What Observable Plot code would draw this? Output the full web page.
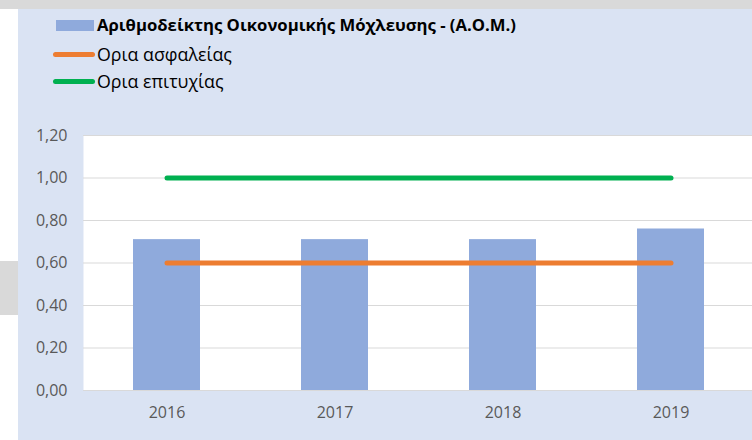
<!DOCTYPE html>
<html><head><meta charset="utf-8">
<script src="https://cdn.jsdelivr.net/npm/d3@7"></script>
<script src="https://cdn.jsdelivr.net/npm/@observablehq/plot@0.6"></script>
<style>
html,body{margin:0;padding:0;width:752px;height:440px;overflow:hidden;background:#fff;font-family:"Open Sans",sans-serif;}
#topband{position:absolute;left:0;top:0;width:752px;height:9px;background:#d9d9d9;}
#leftbox{position:absolute;left:0;top:261px;width:18px;height:54px;background:#d9d9d9;}
#panel{position:absolute;left:18px;top:9px;width:734px;height:431px;background:#dae3f3;}
#chart{position:absolute;left:0;top:0;width:760px;height:440px;}
#chart svg{max-width:none !important;width:760px;height:440px;display:block;}
#chart svg text{font-size:16px !important;font-family:"Open Sans",sans-serif !important;}
.sw{position:absolute;}
.lab{position:absolute;left:97px;white-space:nowrap;}
</style></head>
<body>
<div id="topband"></div>
<div id="leftbox"></div>
<div id="panel"></div>
<div id="chart"></div>
<div id="legend"></div>
<script>
const years = ["2016", "2017", "2018", "2019"];
const aomValues = [0.71, 0.71, 0.71, 0.76];
const safetyLimit = [0.60, 0.60, 0.60, 0.60];
const successLimit = [1.00, 1.00, 1.00, 1.00];
const yTicks = [0, 0.2, 0.4, 0.6, 0.8, 1.0, 1.2];
const seriesNames = ["Αριθμοδείκτης Οικονομικής Μόχλευσης - (Α.Ο.Μ.)", "Ορια ασφαλείας", "Ορια επιτυχίας"];
const seriesColors = ["#8faadc", "#ed7d31", "#00b050"];

const data = years.map((y, i) => ({year: y, aom: aomValues[i], safety: safetyLimit[i], success: successLimit[i]}));

const chart = Plot.plot({
  width: 760, height: 440,
  marginTop: 135, marginBottom: 50, marginLeft: 83, marginRight: 5,
  style: {background: "transparent", fontFamily: "'Open Sans', sans-serif", fontSize: "16px", color: "#595959", overflow: "visible"},
  x: {domain: years, paddingInner: 0.6, paddingOuter: 0.3, label: null},
  y: {domain: [0, 1.2], label: null},
  marks: [
    Plot.frame({fill: "white", stroke: "none"}),
    Plot.gridY(yTicks, {stroke: "#d9d9d9", strokeOpacity: 1, strokeWidth: 1.2}),
    Plot.barY(data, {x: "year", y: "aom", fill: seriesColors[0]}),
    Plot.line(data, {x: "year", y: "safety", stroke: seriesColors[1], strokeWidth: 5, strokeLinecap: "round"}),
    Plot.line(data, {x: "year", y: "success", stroke: seriesColors[2], strokeWidth: 5, strokeLinecap: "round"}),
    Plot.axisY(yTicks, {tickFormat: d => d.toFixed(2).replace(".", ","), tickSize: 0, tickPadding: 16, fontSize: 16, fill: "#595959", label: null}),
    Plot.axisX({tickSize: 0, tickPadding: 16, fontSize: 16, fill: "#595959", label: null})
  ]
});
document.getElementById("chart").appendChild(chart);

// Legend
const legend = document.getElementById("legend");
const rows = [25, 54, 81];
seriesNames.forEach((name, i) => {
  const sw = document.createElement("div");
  sw.className = "sw";
  if (i === 0) {
    Object.assign(sw.style, {left: "56px", top: (rows[i] - 5.5) + "px", width: "38px", height: "11px", background: seriesColors[i]});
  } else {
    Object.assign(sw.style, {left: "53px", top: (rows[i] - 2.5) + "px", width: "42px", height: "5px", borderRadius: "2.5px", background: seriesColors[i]});
  }
  legend.appendChild(sw);
  const lab = document.createElement("div");
  lab.className = "lab";
  lab.textContent = name;
  Object.assign(lab.style, {top: (rows[i] - 12) + "px", height: "24px", lineHeight: "24px", fontSize: i === 0 ? "16.7px" : "17.8px", color: "#000", fontWeight: i === 0 ? "bold" : "normal"});
  legend.appendChild(lab);
});
</script>
</body></html>
